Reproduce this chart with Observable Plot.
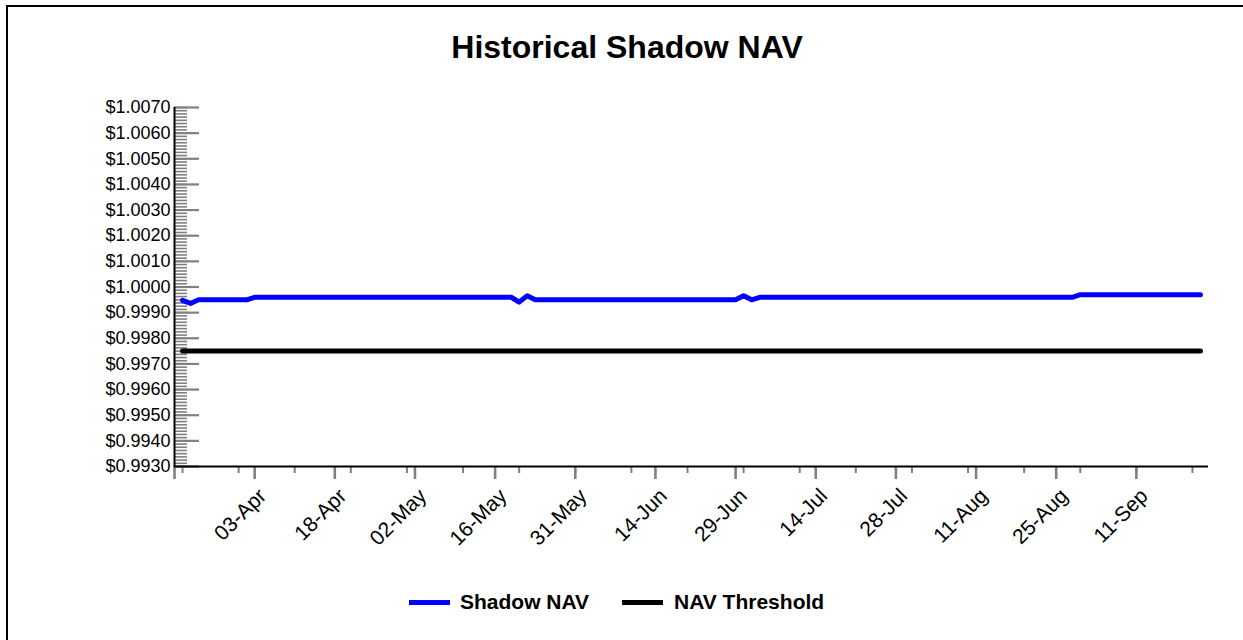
<!DOCTYPE html>
<html>
<head>
<meta charset="utf-8">
<script src="https://cdn.jsdelivr.net/npm/d3@7"></script>
<script src="https://cdn.jsdelivr.net/npm/@observablehq/plot@0.6"></script>
<style>
  html, body { margin: 0; padding: 0; background: #fff; overflow: hidden; }
  body { width: 1243px; height: 640px; position: relative; font-family: "Liberation Sans", Arial, sans-serif; }
  #frame { position: absolute; left: 6px; top: 5px; width: 1300px; height: 700px; border: 2px solid #000; box-sizing: border-box; }
  #chart { position: absolute; left: 0; top: 0; }
  #title { position: absolute; left: 0; top: 31px; width: 1254px; text-align: center; font-size: 32px; line-height: 32px; font-weight: bold; color: #000; }
  .sw { position: absolute; height: 5px; top: 600px; }
  .lg { position: absolute; top: 591px; font-size: 21px; line-height: 21px; font-weight: bold; color: #000; white-space: nowrap; }
</style>
</head>
<body>
<div id="frame"></div>
<div id="chart"></div>
<div id="title">Historical Shadow NAV</div>
<div class="sw" style="left:409px;width:41px;background:#0000ff"></div>
<div class="lg" style="left:460px">Shadow NAV</div>
<div class="sw" style="left:622px;width:41px;background:#000"></div>
<div class="lg" style="left:674px">NAV Threshold</div>
<script>
// Series values (one per business day, index 0..127)
const shadowNav = [
  0.99948, 0.99936, 0.9995, 0.9995, 0.9995, 0.9995, 0.9995, 0.9995, 0.9995, 0.9996,
  0.9996, 0.9996, 0.9996, 0.9996, 0.9996, 0.9996, 0.9996, 0.9996, 0.9996, 0.9996,
  0.9996, 0.9996, 0.9996, 0.9996, 0.9996, 0.9996, 0.9996, 0.9996, 0.9996, 0.9996,
  0.9996, 0.9996, 0.9996, 0.9996, 0.9996, 0.9996, 0.9996, 0.9996, 0.9996, 0.9996,
  0.9996, 0.9996, 0.99941, 0.99966, 0.9995, 0.9995, 0.9995, 0.9995, 0.9995, 0.9995,
  0.9995, 0.9995, 0.9995, 0.9995, 0.9995, 0.9995, 0.9995, 0.9995, 0.9995, 0.9995,
  0.9995, 0.9995, 0.9995, 0.9995, 0.9995, 0.9995, 0.9995, 0.9995, 0.9995, 0.9995,
  0.99966, 0.9995, 0.9996, 0.9996, 0.9996, 0.9996, 0.9996, 0.9996, 0.9996, 0.9996,
  0.9996, 0.9996, 0.9996, 0.9996, 0.9996, 0.9996, 0.9996, 0.9996, 0.9996, 0.9996,
  0.9996, 0.9996, 0.9996, 0.9996, 0.9996, 0.9996, 0.9996, 0.9996, 0.9996, 0.9996,
  0.9996, 0.9996, 0.9996, 0.9996, 0.9996, 0.9996, 0.9996, 0.9996, 0.9996, 0.9996,
  0.9996, 0.9996, 0.9997, 0.9997, 0.9997, 0.9997, 0.9997, 0.9997, 0.9997, 0.9997,
  0.9997, 0.9997, 0.9997, 0.9997, 0.9997, 0.9997, 0.9997, 0.9997
];
const navThreshold = [
  0.9975, 0.9975, 0.9975, 0.9975, 0.9975, 0.9975, 0.9975, 0.9975, 0.9975, 0.9975,
  0.9975, 0.9975, 0.9975, 0.9975, 0.9975, 0.9975, 0.9975, 0.9975, 0.9975, 0.9975,
  0.9975, 0.9975, 0.9975, 0.9975, 0.9975, 0.9975, 0.9975, 0.9975, 0.9975, 0.9975,
  0.9975, 0.9975, 0.9975, 0.9975, 0.9975, 0.9975, 0.9975, 0.9975, 0.9975, 0.9975,
  0.9975, 0.9975, 0.9975, 0.9975, 0.9975, 0.9975, 0.9975, 0.9975, 0.9975, 0.9975,
  0.9975, 0.9975, 0.9975, 0.9975, 0.9975, 0.9975, 0.9975, 0.9975, 0.9975, 0.9975,
  0.9975, 0.9975, 0.9975, 0.9975, 0.9975, 0.9975, 0.9975, 0.9975, 0.9975, 0.9975,
  0.9975, 0.9975, 0.9975, 0.9975, 0.9975, 0.9975, 0.9975, 0.9975, 0.9975, 0.9975,
  0.9975, 0.9975, 0.9975, 0.9975, 0.9975, 0.9975, 0.9975, 0.9975, 0.9975, 0.9975,
  0.9975, 0.9975, 0.9975, 0.9975, 0.9975, 0.9975, 0.9975, 0.9975, 0.9975, 0.9975,
  0.9975, 0.9975, 0.9975, 0.9975, 0.9975, 0.9975, 0.9975, 0.9975, 0.9975, 0.9975,
  0.9975, 0.9975, 0.9975, 0.9975, 0.9975, 0.9975, 0.9975, 0.9975, 0.9975, 0.9975,
  0.9975, 0.9975, 0.9975, 0.9975, 0.9975, 0.9975, 0.9975, 0.9975
];
// Category tick labels and the category index each one sits on
const xTickLabels = ["03-Apr","18-Apr","02-May","16-May","31-May","14-Jun","29-Jun","14-Jul","28-Jul","11-Aug","25-Aug","11-Sep"];
const xTickIndex = [9, 19, 29, 39, 49, 59, 69, 79, 89, 99, 109, 119];
const xMinorIndex = [0, 7, 14, 21, 28, 35, 42, 49, 56, 63, 70, 77, 84, 91, 98, 105, 112, 119, 126];
// Y axis tick values
const yTicks = [0.9930, 0.9940, 0.9950, 0.9960, 0.9970, 0.9980, 0.9990, 1.0000, 1.0010, 1.0020, 1.0030, 1.0040, 1.0050, 1.0060, 1.0070];
const yMinor = d3.range(0, 113).map(k => 0.9930 + k * 0.000125);

const W = 1243, H = 640, mL = 174, mR = 35, mT = 107, mB = 174;
const frameW = W - mL - mR;
const pxPerUnit = (H - mT - mB) / 0.014;
const gray = "#808080";
const xLo = -1;

const shadowRows = shadowNav.map((v, i) => ({i, v}));
const threshRows = navThreshold.map((v, i) => ({i, v}));

const chart = Plot.plot({
  width: W, height: H,
  marginLeft: mL, marginRight: mR, marginTop: mT, marginBottom: mB,
  style: {fontFamily: "'Liberation Sans', Arial, sans-serif", background: "transparent", color: "#000"},
  x: {type: "linear", domain: [xLo, 128], axis: null},
  y: {domain: [0.9930, 1.0070], axis: null},
  marks: [
    // y minor & major ticks (inside the plot)
    Plot.ruleY(yMinor, {y: d => d, insetRight: frameW - 13, stroke: gray, strokeWidth: 1.6}),
    Plot.ruleY(yTicks, {y: d => d, insetRight: frameW - 25, stroke: gray, strokeWidth: 2.2}),
    // x minor & major ticks (below the axis)
    Plot.ruleX(xMinorIndex, {x: d => d, y1: 0.9930, y2: 0.9930 - 7 / pxPerUnit, stroke: gray, strokeWidth: 2}),
    Plot.ruleX([xLo, ...xTickIndex], {x: d => d, y1: 0.9930, y2: 0.9930 - 13 / pxPerUnit, stroke: gray, strokeWidth: 2.6}),
    // series
    Plot.line(threshRows, {x: "i", y: "v", stroke: "#000", strokeWidth: 5, strokeLinecap: "round"}),
    Plot.line(shadowRows, {x: "i", y: "v", stroke: "#0000ff", strokeWidth: 5, strokeLinecap: "round", strokeLinejoin: "round"}),
    // axis lines
    Plot.ruleX([xLo], {x: d => d, y1: 0.9930 - 1 / pxPerUnit, y2: 1.0070, stroke: "#000", strokeWidth: 2}),
    Plot.ruleY([0.9930], {y: d => d, stroke: "#000", strokeWidth: 2}),
    // y tick labels
    Plot.text(yTicks, {x: xLo, y: d => d, text: d => "$" + d.toFixed(4), textAnchor: "end", dx: -4, fontSize: 18, fill: "#000"}),
    // x tick labels (rotated)
    Plot.text(xTickIndex, {x: d => d, y: 0.9930, text: (d, i) => xTickLabels[i], rotate: -45, textAnchor: "end", dx: 8, dy: 26, fontSize: 21, fill: "#000"})
  ]
});
document.getElementById("chart").appendChild(chart);
</script>
</body>
</html>
